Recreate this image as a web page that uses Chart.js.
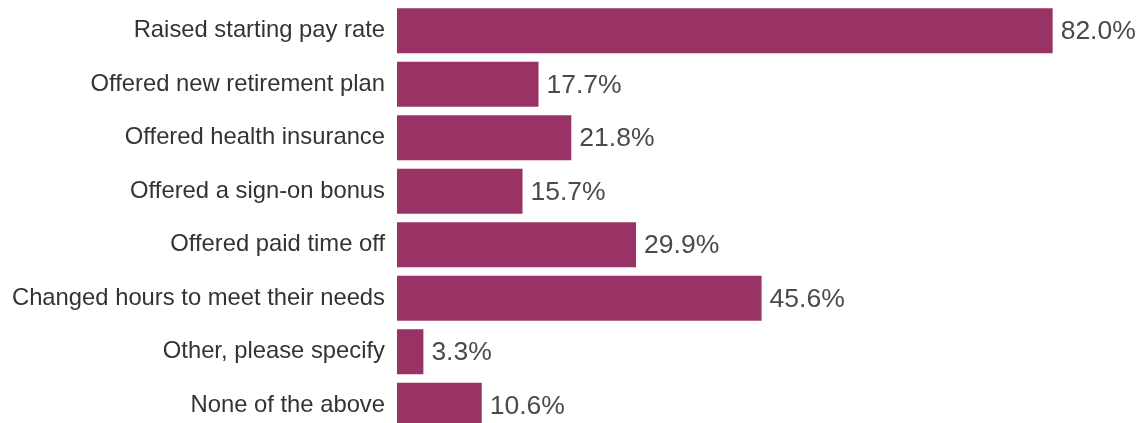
<!DOCTYPE html>
<html>
<head>
<meta charset="utf-8">
<script src="https://cdn.jsdelivr.net/npm/chart.js@4/dist/chart.umd.min.js"></script>
<style>
  html, body { margin: 0; padding: 0; background: #fff; overflow: hidden; }
  #chart { display: block; }
</style>
</head>
<body>
<canvas id="chart" width="1139" height="432"></canvas>
<script>
// categories and values
const categories = [
  "Raised starting pay rate",
  "Offered new retirement plan",
  "Offered health insurance",
  "Offered a sign-on bonus",
  "Offered paid time off",
  "Changed hours to meet their needs",
  "Other, please specify",
  "None of the above"
];
const values = [82.0, 17.7, 21.8, 15.7, 29.9, 45.6, 3.3, 10.6];

// draws the "82.0%" text at the end of each bar
const valueLabels = {
  id: "valueLabels",
  afterDatasetsDraw(chart) {
    const ctx = chart.ctx;
    const meta = chart.getDatasetMeta(0);
    ctx.save();
    ctx.font = "26.5px 'Liberation Sans', Arial, sans-serif";
    ctx.fillStyle = "#4a4a4a";
    ctx.textAlign = "left";
    ctx.textBaseline = "middle";
    meta.data.forEach((bar, i) => {
      ctx.fillText(values[i].toFixed(1) + "%", bar.x + 8, bar.y + 1);
    });
    ctx.restore();
  }
};

const chartEl = document.getElementById("chart");

new Chart(chartEl, {
  type: "bar",
  data: {
    labels: categories,
    datasets: [{
      data: values,
      backgroundColor: "#993366",
      borderWidth: 0,
      categoryPercentage: 1,
      barPercentage: 0.842
    }]
  },
  options: {
    indexAxis: "y",
    responsive: false,
    animation: false,
    layout: { padding: { top: 4, right: 0, bottom: 0, left: 0 } },
    plugins: {
      legend: { display: false },
      tooltip: { enabled: false }
    },
    scales: {
      x: {
        display: false,
        min: 0,
        max: 92.8
      },
      y: {
        afterFit: (scale) => {
          scale.width = 397;
          // no extra room above/below for the label halves
          scale.paddingTop = 0;
          scale.paddingBottom = 0;
        },
        grid: { display: false, drawTicks: false },
        border: { display: false },
        ticks: {
          padding: 12,
          color: "#333333",
          font: { family: "'Liberation Sans', Arial, sans-serif", size: 23.8 }
        }
      }
    }
  },
  plugins: [valueLabels]
});
</script>
</body>
</html>
